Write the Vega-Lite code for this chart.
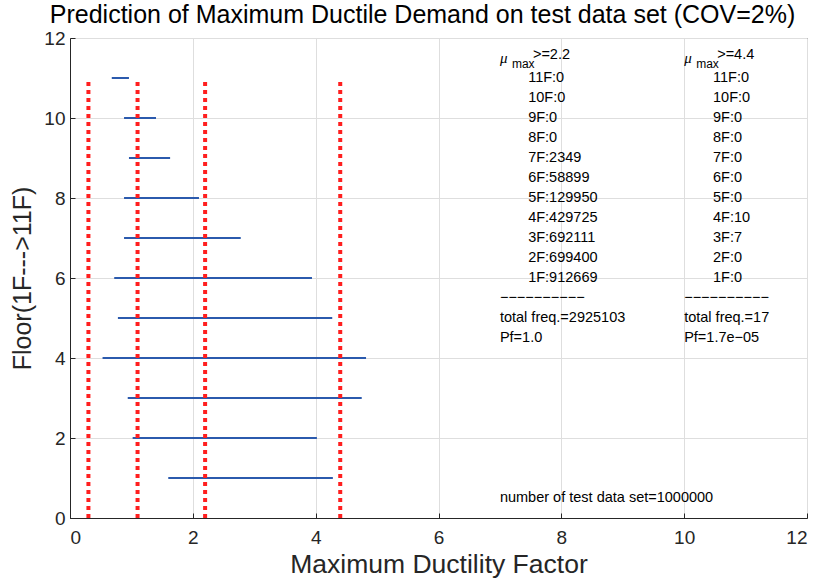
{
  "$schema": "https://vega.github.io/schema/vega-lite/v6.json",
  "width": 737,
  "height": 480,
  "autosize": {"type": "none"},
  "padding": {"left": 70, "top": 38, "right": 30, "bottom": 65},
  "background": "white",
  "title": {
    "text": "Prediction of Maximum Ductile Demand on test data set (COV=2%)",
    "font": "Liberation Sans",
    "fontSize": 25,
    "fontWeight": "normal",
    "color": "#000000",
    "anchor": "middle",
    "dx": -16,
    "offset": 1
  },
  "config": {
    "view": {"stroke": "#262626", "strokeWidth": 1},
    "axis": {
      "labelFont": "Liberation Sans",
      "titleFont": "Liberation Sans",
      "labelFontSize": 19,
      "titleFontSize": 25,
      "titleFontWeight": "normal",
      "labelColor": "#262626",
      "titleColor": "#262626",
      "domainColor": "#262626",
      "tickColor": "#262626",
      "gridColor": "#dedede",
      "gridWidth": 1,
      "tickSize": -5
    }
  },
  "datasets": {
    "floors": [
      {"floor": 11, "xmin": 0.68, "xmax": 0.96},
      {"floor": 10, "xmin": 0.88, "xmax": 1.40},
      {"floor": 9, "xmin": 0.96, "xmax": 1.63},
      {"floor": 8, "xmin": 0.88, "xmax": 2.10},
      {"floor": 7, "xmin": 0.88, "xmax": 2.78},
      {"floor": 6, "xmin": 0.72, "xmax": 3.94},
      {"floor": 5, "xmin": 0.78, "xmax": 4.27},
      {"floor": 4, "xmin": 0.53, "xmax": 4.82},
      {"floor": 3, "xmin": 0.94, "xmax": 4.75},
      {"floor": 2, "xmin": 1.02, "xmax": 4.02},
      {"floor": 1, "xmin": 1.60, "xmax": 4.28}
    ],
    "limits": [
      {"mu": 0.3, "ylo": 0, "yhi": 11},
      {"mu": 1.1, "ylo": 0, "yhi": 11},
      {"mu": 2.2, "ylo": 0, "yhi": 11},
      {"mu": 4.4, "ylo": 0, "yhi": 11}
    ],
    "entries": [
      {"x": 7.46, "y": 11.0, "label": "11F:0"},
      {"x": 7.46, "y": 10.5, "label": "10F:0"},
      {"x": 7.46, "y": 10.0, "label": "9F:0"},
      {"x": 7.46, "y": 9.5, "label": "8F:0"},
      {"x": 7.46, "y": 9.0, "label": "7F:2349"},
      {"x": 7.46, "y": 8.5, "label": "6F:58899"},
      {"x": 7.46, "y": 8.0, "label": "5F:129950"},
      {"x": 7.46, "y": 7.5, "label": "4F:429725"},
      {"x": 7.46, "y": 7.0, "label": "3F:692111"},
      {"x": 7.46, "y": 6.5, "label": "2F:699400"},
      {"x": 7.46, "y": 6.0, "label": "1F:912669"},
      {"x": 7.0, "y": 5.5, "label": "−−−−−−−−−−"},
      {"x": 7.0, "y": 5.0, "label": "total freq.=2925103"},
      {"x": 7.0, "y": 4.5, "label": "Pf=1.0"},
      {"x": 10.47, "y": 11.0, "label": "11F:0"},
      {"x": 10.47, "y": 10.5, "label": "10F:0"},
      {"x": 10.47, "y": 10.0, "label": "9F:0"},
      {"x": 10.47, "y": 9.5, "label": "8F:0"},
      {"x": 10.47, "y": 9.0, "label": "7F:0"},
      {"x": 10.47, "y": 8.5, "label": "6F:0"},
      {"x": 10.47, "y": 8.0, "label": "5F:0"},
      {"x": 10.47, "y": 7.5, "label": "4F:10"},
      {"x": 10.47, "y": 7.0, "label": "3F:7"},
      {"x": 10.47, "y": 6.5, "label": "2F:0"},
      {"x": 10.47, "y": 6.0, "label": "1F:0"},
      {"x": 10.0, "y": 5.5, "label": "−−−−−−−−−−"},
      {"x": 10.0, "y": 5.0, "label": "total freq.=17"},
      {"x": 10.0, "y": 4.5, "label": "Pf=1.7e−05"},
      {"x": 7.0, "y": 0.5, "label": "number of test data set=1000000"}
    ],
    "headers": [
      {"x": 7.0, "y": 11.5, "thr": ">=2.2"},
      {"x": 10.0, "y": 11.5, "thr": ">=4.4"}
    ]
  },
  "layer": [
    {
      "data": {"name": "floors"},
      "mark": {"type": "rule", "color": "#2b5aad", "strokeWidth": 2},
      "encoding": {
        "x": {
          "field": "xmin", "type": "quantitative",
          "scale": {"domain": [0, 12], "nice": false},
          "axis": {"values": [0, 2, 4, 6, 8, 10, 12], "format": "d", "title": "Maximum Ductility Factor", "titleFontSize": 26.5, "labelPadding": 15, "titlePadding": 4, "grid": true}
        },
        "x2": {"field": "xmax"},
        "y": {
          "field": "floor", "type": "quantitative",
          "scale": {"domain": [0, 12], "nice": false},
          "axis": {"values": [0, 2, 4, 6, 8, 10, 12], "format": "d", "title": "Floor(1F--->11F)", "labelPadding": 10, "titlePadding": 8, "grid": true}
        }
      }
    },
    {
      "data": {"name": "limits"},
      "mark": {"type": "rule", "color": "#ff1f1f", "strokeWidth": 4, "strokeDash": [4, 4]},
      "encoding": {
        "x": {"field": "mu", "type": "quantitative"},
        "y": {"field": "ylo", "type": "quantitative"},
        "y2": {"field": "yhi"}
      }
    },
    {
      "data": {"name": "entries"},
      "mark": {"type": "text", "align": "left", "baseline": "middle", "font": "Liberation Sans", "fontSize": 14.5, "color": "#000000"},
      "encoding": {
        "x": {"field": "x", "type": "quantitative"},
        "y": {"field": "y", "type": "quantitative"},
        "text": {"field": "label"}
      }
    },
    {
      "data": {"name": "headers"},
      "mark": {"type": "text", "align": "left", "baseline": "middle", "font": "Liberation Serif", "fontStyle": "italic", "fontSize": 15, "color": "#000000"},
      "encoding": {
        "x": {"field": "x", "type": "quantitative"},
        "y": {"field": "y", "type": "quantitative"},
        "text": {"value": "μ"}
      }
    },
    {
      "data": {"name": "headers"},
      "mark": {"type": "text", "align": "left", "baseline": "middle", "font": "Liberation Sans", "fontSize": 12, "color": "#000000", "dx": 12, "dy": 6},
      "encoding": {
        "x": {"field": "x", "type": "quantitative"},
        "y": {"field": "y", "type": "quantitative"},
        "text": {"value": "max"}
      }
    },
    {
      "data": {"name": "headers"},
      "mark": {"type": "text", "align": "left", "baseline": "middle", "font": "Liberation Sans", "fontSize": 14.5, "color": "#000000", "dx": 33, "dy": -3},
      "encoding": {
        "x": {"field": "x", "type": "quantitative"},
        "y": {"field": "y", "type": "quantitative"},
        "text": {"field": "thr"}
      }
    }
  ]
}
